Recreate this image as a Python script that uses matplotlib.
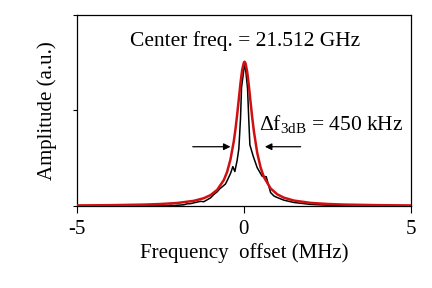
import matplotlib
matplotlib.use("Agg")
import matplotlib.pyplot as plt

# Measured spectrum (black)
meas_x = [-5.0, -4.0, -3.45, -3.4, -3.35, -3.0, -2.3, -2.2, -2.1, -1.8, -1.7, -1.6, -1.5,
          -1.4, -1.3, -1.2, -1.1, -1.0, -0.9, -0.8, -0.72, -0.65, -0.55, -0.48, -0.4,
          -0.33, -0.27, -0.2, -0.15, -0.1, -0.07, 0.03, 0.11, 0.15, 0.18, 0.28, 0.4,
          0.55, 0.67, 0.8, 0.9, 1.0, 1.2, 1.5, 2.0, 2.5, 3.0, 4.0, 5.0]
meas_y = [0.0, 0.0, 0.0, 0.005, 0.0, 0.0, 0.0, 0.004, 0.002, 0.006, 0.011, 0.012, 0.016,
          0.02, 0.024, 0.022, 0.032, 0.042, 0.06, 0.074, 0.09, 0.1, 0.115, 0.14, 0.17,
          0.206, 0.18, 0.24, 0.3, 0.46, 0.62, 0.754, 0.616, 0.44, 0.32, 0.26, 0.2,
          0.155, 0.153, 0.07, 0.052, 0.044, 0.03, 0.018, 0.008, 0.004, 0.002, 0.0, 0.0]

# Lorentzian fit (red)
fit_x = [-5.0, -4.0, -3.0, -2.5, -2.0, -1.5, -1.2, -1.0, -0.8, -0.6, -0.5, -0.4, -0.3,
         -0.25, -0.2, -0.15, -0.1, -0.05, 0.0, 0.02, 0.05, 0.1, 0.15, 0.2, 0.25, 0.3,
         0.4, 0.5, 0.6, 0.8, 1.0, 1.2, 1.5, 2.0, 2.5, 3.0, 4.0, 5.0]
fit_y = [0.0026, 0.0039, 0.0069, 0.0099, 0.0153, 0.0265, 0.0404, 0.0565, 0.0839, 0.1355,
         0.179, 0.244, 0.340, 0.404, 0.479, 0.562, 0.645, 0.713, 0.751, 0.755, 0.747,
         0.702, 0.629, 0.545, 0.463, 0.391, 0.278, 0.202, 0.151, 0.0917, 0.0608, 0.043,
         0.028, 0.0159, 0.0102, 0.0071, 0.004, 0.0026]

x_ticks = [-5, 0, 5]
y_ticks = [0, 0.5, 1.0]

plt.rcParams['font.family'] = ['Liberation Serif', 'DejaVu Serif']
plt.rcParams['mathtext.fontset'] = 'custom'
plt.rcParams['mathtext.rm'] = 'Liberation Serif'
plt.rcParams['mathtext.it'] = 'Liberation Serif'
plt.rcParams['axes.unicode_minus'] = False

fig = plt.figure(figsize=(4.32, 2.88), dpi=100)
ax = fig.add_axes([0.178, 0.285, 0.773, 0.663])

ax.plot(meas_x, meas_y, color='black', lw=1.1, zorder=2)
ax.plot(fit_x, fit_y, color='#d01010', lw=1.8, zorder=3)

ax.set_xlim(-5, 5)
ax.set_ylim(0, 1.0)
ax.set_xticks(x_ticks)
ax.set_yticks(y_ticks)
ax.set_yticklabels([])
ax.tick_params(axis='x', direction='out', length=5, width=0.8, labelsize=15, pad=5)
ax.tick_params(axis='y', direction='out', length=3, width=0.8)
for s in ax.spines.values():
    s.set_linewidth(0.9)

ax.set_xlabel('Frequency  offset (MHz)', fontsize=15, labelpad=3)
ax.set_ylabel('Amplitude (a.u.)', fontsize=15, labelpad=8)

ax.text(0.05, 0.865, 'Center freq. = 21.512 GHz', fontsize=15.5, ha='center', va='center')
ax.text(0.45, 0.43, r'$\Delta$f$_{\mathrm{3dB}}$ = 450 kHz', fontsize=15.5, ha='left',
        va='center')

ax.annotate('', xy=(-0.4, 0.31), xytext=(-1.53, 0.31),
            arrowprops=dict(arrowstyle='-|>', color='black', lw=0.9,
                            mutation_scale=10, shrinkA=0, shrinkB=0))
ax.annotate('', xy=(0.63, 0.31), xytext=(1.7, 0.31),
            arrowprops=dict(arrowstyle='-|>', color='black', lw=0.9,
                            mutation_scale=10, shrinkA=0, shrinkB=0))

fig.savefig('out.png', dpi=100)
